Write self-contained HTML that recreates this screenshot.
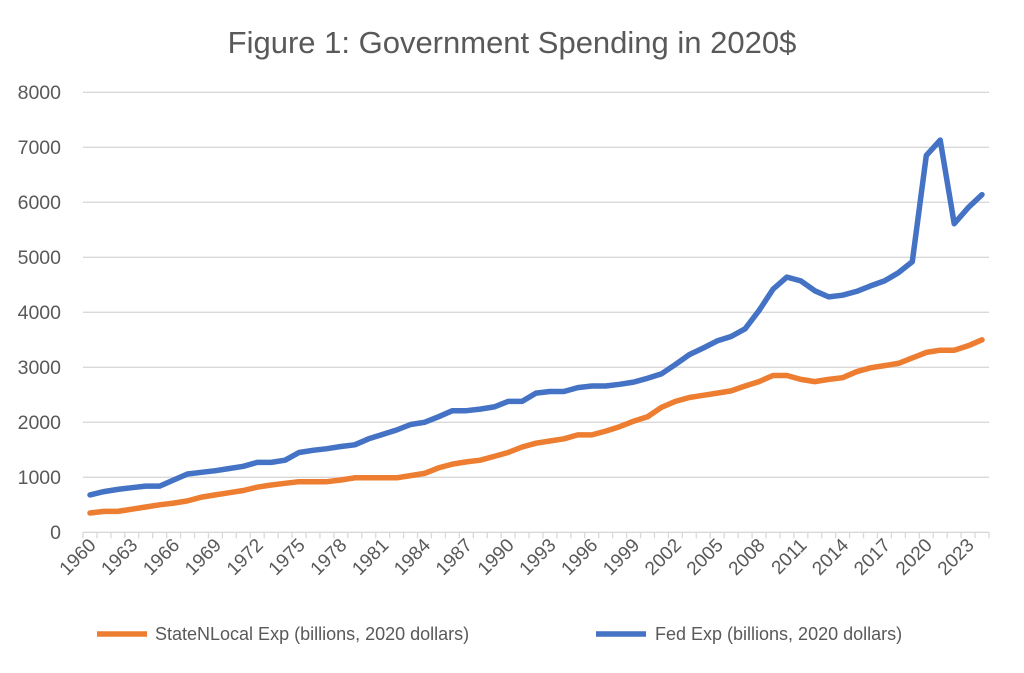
<!DOCTYPE html>
<html><head><meta charset="utf-8"><style>
html,body{margin:0;padding:0;background:#fff;}
svg{display:block;font-family:"Liberation Sans",sans-serif;}
</style></head><body>
<svg id="c" width="1024" height="673" viewBox="0 0 1024 673" xmlns="http://www.w3.org/2000/svg">
<text x="512" y="53" text-anchor="middle" font-size="31" fill="#595959">Figure 1: Government Spending in 2020$</text>
<g id="grid" stroke="#d9d9d9" stroke-width="1.3"></g>
<g font-size="19.5" fill="#595959" text-anchor="end">
<text x="61" y="99">8000</text><text x="61" y="154">7000</text><text x="61" y="209">6000</text>
<text x="61" y="264">5000</text><text x="61" y="319">4000</text><text x="61" y="374">3000</text>
<text x="61" y="429">2000</text><text x="61" y="484">1000</text><text x="61" y="539">0</text>
</g>
<g id="xl" font-size="19" fill="#595959" text-anchor="end">
<text>1960</text><text>1963</text><text>1966</text><text>1969</text><text>1972</text><text>1975</text><text>1978</text><text>1981</text><text>1984</text><text>1987</text><text>1990</text><text>1993</text><text>1996</text><text>1999</text><text>2002</text><text>2005</text><text>2008</text><text>2011</text><text>2014</text><text>2017</text><text>2020</text><text>2023</text>
</g>
<polyline id="s" fill="none" stroke="#ed7d31" stroke-width="5.5" stroke-linejoin="round" stroke-linecap="round"/>
<polyline id="f" fill="none" stroke="#4472c4" stroke-width="5.5" stroke-linejoin="round" stroke-linecap="round"/>
<line x1="97" y1="634" x2="147" y2="634" stroke="#ed7d31" stroke-width="5.5"/>
<text x="155" y="640" font-size="18" fill="#595959">StateNLocal Exp (billions, 2020 dollars)</text>
<line x1="596" y1="634" x2="646" y2="634" stroke="#4472c4" stroke-width="5.5"/>
<text x="655" y="640" font-size="18" fill="#595959">Fed Exp (billions, 2020 dollars)</text>
</svg>
<script>
var X0=83,X1=989,Y0=532.3,K=0.055,N=65,W=(X1-X0)/N;
var g=document.getElementById('grid'),ns='http://www.w3.org/2000/svg';
function ln(a,b,c,d){var l=document.createElementNS(ns,'line');l.setAttribute('x1',a);l.setAttribute('y1',b);l.setAttribute('x2',c);l.setAttribute('y2',d);g.appendChild(l);}
for(var i=0;i<=8;i++){var y=Y0-i*1000*K;ln(X0,y,X1,y);}
for(var i=0;i<=N;i++){var x=X0+i*W;ln(x,Y0,x,Y0+6);}
var ts=document.getElementById('xl').children;
for(var j=0;j<ts.length;j++){var x=X0+(j*3+0.5)*W+7,y=Y0+14;ts[j].setAttribute('transform','translate('+x+','+y+') rotate(-45)');}
var fed=[680,740,780,810,840,840,950,1060,1090,1120,1160,1200,1270,1270,1310,1450,1490,1520,1560,1590,1700,1780,1860,1960,2000,2100,2210,2210,2240,2280,2380,2380,2530,2560,2560,2630,2660,2660,2690,2730,2800,2880,3050,3230,3350,3480,3560,3700,4030,4420,4640,4570,4390,4280,4310,4380,4480,4570,4720,4920,6850,7130,5610,5900,6140];
var st=[350,380,380,420,460,500,530,570,640,680,720,760,820,860,890,920,920,920,950,990,990,990,990,1030,1070,1170,1240,1280,1310,1380,1450,1550,1620,1660,1700,1770,1770,1840,1920,2020,2100,2270,2380,2450,2490,2530,2570,2660,2740,2850,2850,2780,2740,2780,2810,2920,2990,3030,3070,3170,3270,3310,3310,3390,3500];
function pts(a){return a.map(function(v,i){return (X0+(i+0.5)*W).toFixed(1)+','+(Y0-v*K).toFixed(1);}).join(' ');}
document.getElementById('s').setAttribute('points',pts(st));
document.getElementById('f').setAttribute('points',pts(fed));
</script>
</body></html>
